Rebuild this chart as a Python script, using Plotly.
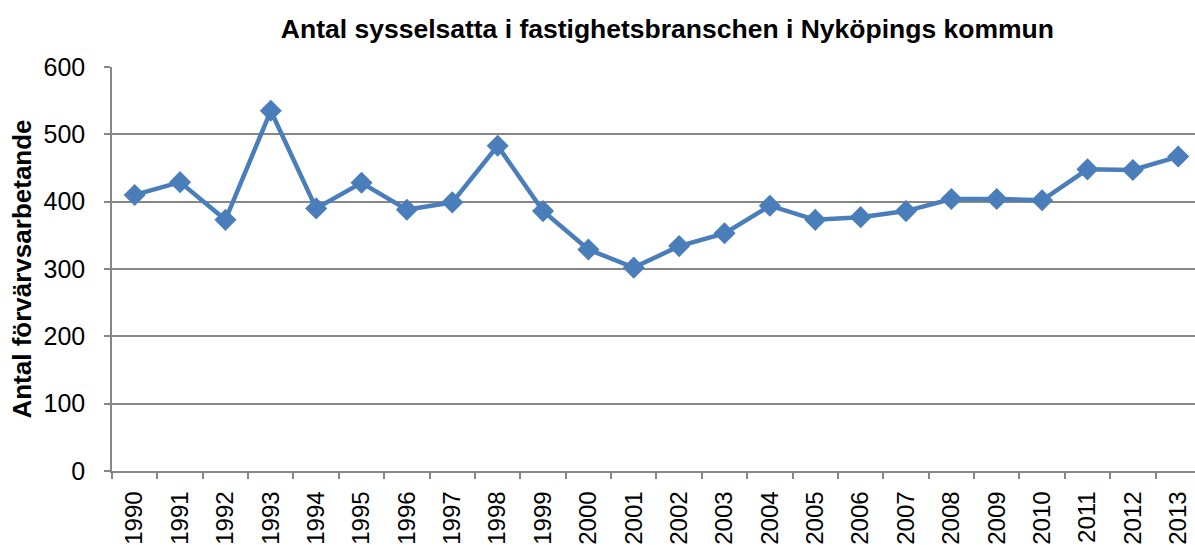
import plotly.graph_objects as go

# Employment in the real-estate sector, Nyköping municipality
years = [str(y) for y in range(1990, 2014)]
employed = [410, 429, 373, 535, 390, 428, 388, 399, 483, 386, 329, 302,
            334, 353, 394, 373, 377, 386, 404, 404, 402, 448, 447, 467]
y_ticks = [0, 100, 200, 300, 400, 500, 600]

line_blue = "#4a7ebb"
axis_gray = "#868686"
font_family = "Liberation Sans, Arial, sans-serif"

fig = go.Figure(
    go.Scatter(
        x=years,
        y=employed,
        mode="lines+markers",
        line=dict(color=line_blue, width=4.5),
        marker=dict(symbol="diamond", size=17, color=line_blue),
        cliponaxis=False,
        showlegend=False,
    )
)

fig.update_layout(
    width=1195,
    height=545,
    margin=dict(l=112, r=0, t=67, b=74),
    paper_bgcolor="white",
    plot_bgcolor="white",
    font=dict(family=font_family, color="black"),
    title=dict(
        text="<b>Antal sysselsatta i fastighetsbranschen i Nyköpings kommun</b>",
        x=0.5585,
        xanchor="center",
        y=0.947,
        yanchor="middle",
        font=dict(size=26.5, family=font_family, color="black"),
    ),
)

fig.update_xaxes(
    type="category",
    categoryorder="array",
    categoryarray=years,
    range=[-0.5, 23.37],
    tickson="boundaries",
    ticks="outside",
    ticklen=6,
    tickcolor=axis_gray,
    tickwidth=1.5,
    showline=True,
    linecolor=axis_gray,
    linewidth=1.5,
    showgrid=False,
    tickangle=-90,
    ticklabelstandoff=9,
    tickfont=dict(size=24, family=font_family, color="black"),
    zeroline=False,
    automargin=False,
)

fig.update_yaxes(
    range=[0, 600],
    tickvals=y_ticks,
    ticks="outside",
    ticklen=6,
    tickcolor=axis_gray,
    tickwidth=1.5,
    showline=True,
    linecolor=axis_gray,
    linewidth=1.5,
    showgrid=True,
    gridcolor=axis_gray,
    gridwidth=1.5,
    zeroline=False,
    automargin=False,
    ticklabelstandoff=14,
    tickfont=dict(size=25, family=font_family, color="black"),
    title=dict(
        text="<b>Antal förvärvsarbetande</b>",
        font=dict(size=26, family=font_family, color="black"),
        standoff=4,
    ),
)

fig.write_html("out.html")
